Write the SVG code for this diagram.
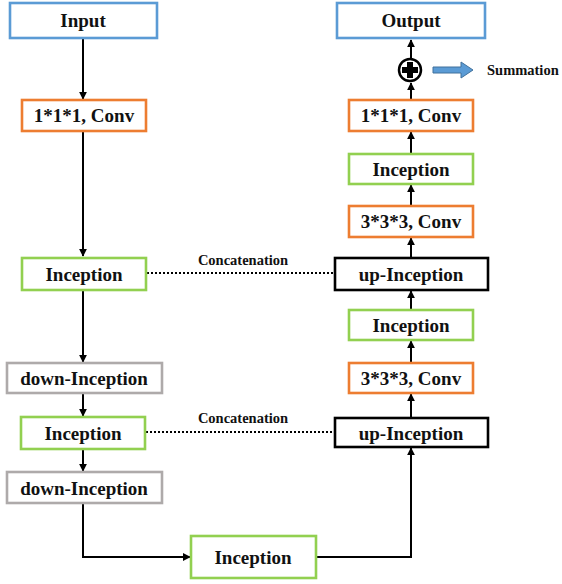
<svg xmlns="http://www.w3.org/2000/svg" width="562" height="584" viewBox="0 0 562 584" font-family="Liberation Serif, Times New Roman, serif">
<defs>
<marker id="ah" viewBox="0 0 10 10" refX="9" refY="5" markerWidth="4" markerHeight="4" orient="auto" markerUnits="strokeWidth">
<path d="M0,0 L10,5 L0,10 z" fill="#000"/>
</marker>
<style>
.box{fill:#fff;stroke-width:2.6}
.blue{stroke:#5B9BD5}
.orange{stroke:#ED7D31}
.green{stroke:#92D050}
.gray{stroke:#AEAAAA}
.black{stroke:#000}
.t{font-size:19px;text-anchor:middle;font-weight:bold;fill:#111}
.s{font-size:14.5px;font-weight:bold;fill:#111}
.ln{stroke:#000;stroke-width:2;fill:none}
.dot{stroke:#000;stroke-width:2;stroke-dasharray:2 2;fill:none}
</style>
</defs>
<rect width="562" height="584" fill="#fff"/>
<g id="connectors">
<line class="ln" x1="83" y1="39" x2="83" y2="99" marker-end="url(#ah)"/>
<line class="ln" x1="83" y1="131" x2="83" y2="256" marker-end="url(#ah)"/>
<line class="ln" x1="83" y1="290" x2="83" y2="362" marker-end="url(#ah)"/>
<line class="ln" x1="83" y1="393" x2="83" y2="416" marker-end="url(#ah)"/>
<line class="ln" x1="83" y1="449" x2="83" y2="471" marker-end="url(#ah)"/>
<polyline class="ln" points="83,503 83,557 190,557" marker-end="url(#ah)"/>
<polyline class="ln" points="316,557 411,557 411,448" marker-end="url(#ah)"/>
<line class="ln" x1="411" y1="417" x2="411" y2="394" marker-end="url(#ah)"/>
<line class="ln" x1="411" y1="362" x2="411" y2="341" marker-end="url(#ah)"/>
<line class="ln" x1="411" y1="309" x2="411" y2="291" marker-end="url(#ah)"/>
<line class="ln" x1="411" y1="257" x2="411" y2="238" marker-end="url(#ah)"/>
<line class="ln" x1="411" y1="206" x2="411" y2="185" marker-end="url(#ah)"/>
<line class="ln" x1="411" y1="154" x2="411" y2="132" marker-end="url(#ah)"/>
<line class="ln" x1="411" y1="99" x2="411" y2="83" marker-end="url(#ah)"/>
<line class="ln" x1="411" y1="58" x2="411" y2="40" marker-end="url(#ah)"/>
<line class="dot" x1="147" y1="273" x2="334" y2="273"/>
<line class="dot" x1="146" y1="432" x2="334" y2="432"/>
<text class="s" x="243" y="265" text-anchor="middle">Concatenation</text>
<text class="s" x="243" y="423" text-anchor="middle">Concatenation</text>
</g>
<g id="input"><rect class="box blue" x="10" y="3" width="147" height="35"/><text class="t" x="83" y="27">Input</text></g>
<g id="conv1-left"><rect class="box orange" x="22" y="100" width="124" height="31"/><text class="t" x="84" y="122">1*1*1, Conv</text></g>
<g id="inception-l1"><rect class="box green" x="22" y="258" width="124" height="32"/><text class="t" x="84" y="281">Inception</text></g>
<g id="down-inception-1"><rect class="box gray" x="7" y="363" width="155" height="30"/><text class="t" x="84" y="385">down-Inception</text></g>
<g id="inception-l2"><rect class="box green" x="21" y="417" width="124" height="32"/><text class="t" x="83" y="440">Inception</text></g>
<g id="down-inception-2"><rect class="box gray" x="7" y="472" width="155" height="31"/><text class="t" x="84" y="495">down-Inception</text></g>
<g id="inception-bottom"><rect class="box green" x="191" y="536" width="125" height="42"/><text class="t" x="253" y="564">Inception</text></g>
<g id="up-inception-2"><rect class="box black" x="335" y="418" width="153" height="29"/><text class="t" x="411" y="440">up-Inception</text></g>
<g id="conv3-2"><rect class="box orange" x="349" y="363" width="124" height="30"/><text class="t" x="411" y="385">3*3*3, Conv</text></g>
<g id="inception-r2"><rect class="box green" x="349" y="310" width="124" height="30"/><text class="t" x="411" y="332">Inception</text></g>
<g id="up-inception-1"><rect class="box black" x="335" y="258" width="153" height="32"/><text class="t" x="411" y="281">up-Inception</text></g>
<g id="conv3-1"><rect class="box orange" x="349" y="206" width="124" height="31"/><text class="t" x="411" y="228">3*3*3, Conv</text></g>
<g id="inception-r1"><rect class="box green" x="349" y="154" width="124" height="30"/><text class="t" x="411" y="176">Inception</text></g>
<g id="conv1-right"><rect class="box orange" x="349" y="100" width="124" height="31"/><text class="t" x="411" y="122">1*1*1, Conv</text></g>
<g id="sum">
<circle cx="410" cy="70" r="11" fill="#fff" stroke="#000" stroke-width="2.5"/>
<path d="M407,62 h6 v5 h5 v6 h-5 v5 h-6 v-5 h-5 v-6 h5 z" fill="#000"/>
</g>
<g id="summation-arrow">
<path d="M433,67 h28 v-5 l12,8 l-12,8 v-5 h-28 z" fill="#5B9BD5" stroke="#41719C" stroke-width="1"/>
<text class="s" x="487" y="75">Summation</text>
</g>
<g id="output"><rect class="box blue" x="337" y="3" width="148" height="35"/><text class="t" x="411" y="27">Output</text></g>
</svg>
